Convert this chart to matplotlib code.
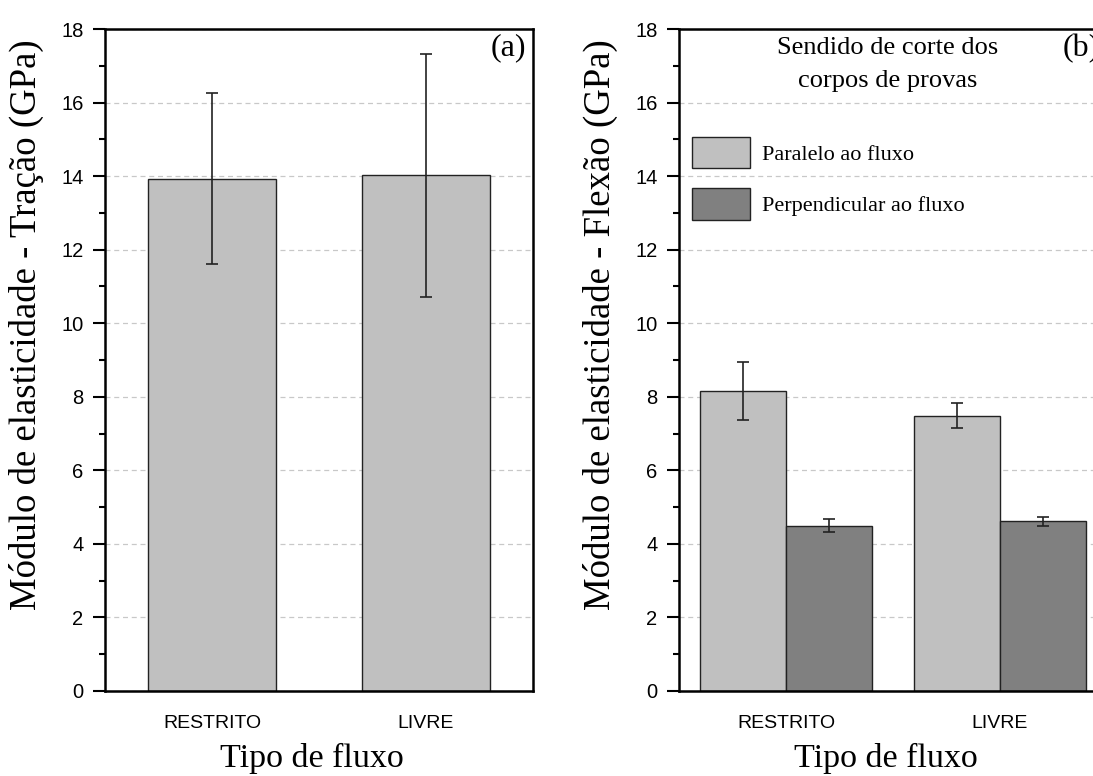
import matplotlib
matplotlib.use("Agg")
import matplotlib.pyplot as plt
import numpy as np

# data
categorias = ["RESTRITO", "LIVRE"]

tracao = [13.93, 14.02]
tracao_err = [2.33, 3.31]

paralelo = [8.16, 7.48]
paralelo_err = [0.79, 0.34]
perpendicular = [4.50, 4.61]
perpendicular_err = [0.18, 0.12]

series_labels = ["Paralelo ao fluxo", "Perpendicular ao fluxo"]

# constants
cor_clara = "#c0c0c0"
cor_escura = "#808080"
serif = "Liberation Serif"
sans = "Liberation Sans"

plt.rcParams["font.family"] = sans

fig = plt.figure(figsize=(10.93, 7.76), dpi=100)
ax1 = fig.add_axes([105 / 1093, 85 / 776, 428 / 1093, 662 / 776])
ax2 = fig.add_axes([679 / 1093, 85 / 776, 428 / 1093, 662 / 776])


def estilo(ax, ylabel):
    ax.set_ylim(0, 18)
    ax.set_xlim(-0.5, 1.5)
    ax.set_yticks(np.arange(0, 19, 2))
    ax.set_yticks(np.arange(1, 18, 2), minor=True)
    ax.set_xticks(range(len(categorias)))
    ax.set_xticklabels(categorias)
    ax.tick_params(axis="y", which="major", direction="out", length=8.5, width=1.5,
                   pad=7, labelsize=14.5)
    ax.tick_params(axis="y", which="minor", direction="out", length=4.5, width=1.5)
    ax.tick_params(axis="x", length=0, pad=17, labelsize=14)
    for s in ax.spines.values():
        s.set_linewidth(1.8)
    ax.yaxis.grid(True, which="major", color="#c8c8c8", linestyle=(0, (4, 3)), linewidth=0.9)
    ax.set_axisbelow(True)
    ax.set_xlabel("Tipo de fluxo", fontsize=24.5, family=serif, labelpad=8, x=0.483)
    ax.set_ylabel(ylabel, fontsize=26.5, family=serif, labelpad=12, y=0.553)


# (a) traction
x = np.arange(len(categorias))
ax1.bar(x, tracao, 0.6, color=cor_clara, edgecolor="#222222", linewidth=1.0, zorder=2)
ax1.errorbar(x, tracao, yerr=tracao_err, fmt="none", ecolor="#222222", elinewidth=1.2,
             capsize=4.2, capthick=1.2, zorder=3)
estilo(ax1, "Módulo de elasticidade - Tração (GPa)")
ax1.text(0.984, 0.971, "(a)", transform=ax1.transAxes, ha="right", va="center",
         fontsize=23, family=serif)

# (b) flexure
w = 0.4
b1 = ax2.bar(x - w / 2, paralelo, w, color=cor_clara, edgecolor="#222222", linewidth=1.0,
             zorder=2, label=series_labels[0])
b2 = ax2.bar(x + w / 2, perpendicular, w, color=cor_escura, edgecolor="#222222", linewidth=1.0,
             zorder=2, label=series_labels[1])
ax2.errorbar(x - w / 2, paralelo, yerr=paralelo_err, fmt="none", ecolor="#222222",
             elinewidth=1.2, capsize=4.5, capthick=1.2, zorder=3)
ax2.errorbar(x + w / 2, perpendicular, yerr=perpendicular_err, fmt="none", ecolor="#222222",
             elinewidth=1.2, capsize=4.5, capthick=1.2, zorder=3)
estilo(ax2, "Módulo de elasticidade - Flexão (GPa)")
# panel letter sits at the edge of the picture, as in the original
ax2.text(0.984, 0.971, "(b)", transform=ax2.transAxes, ha="right", va="center",
         fontsize=23, family=serif)

ax2.text(0.488, 0.946, "Sendido de corte dos\ncorpos de provas", transform=ax2.transAxes,
         ha="center", va="center", fontsize=19, family=serif, linespacing=1.65)
ax2.legend(handles=[b1, b2], loc="upper left", bbox_to_anchor=(0.030, 0.837),
           frameon=False, borderpad=0, borderaxespad=0, handlelength=2.6,
           handleheight=1.8, labelspacing=0.9, handletextpad=0.55,
           prop={"family": serif, "size": 16})

fig.savefig("out.png", dpi=100)
